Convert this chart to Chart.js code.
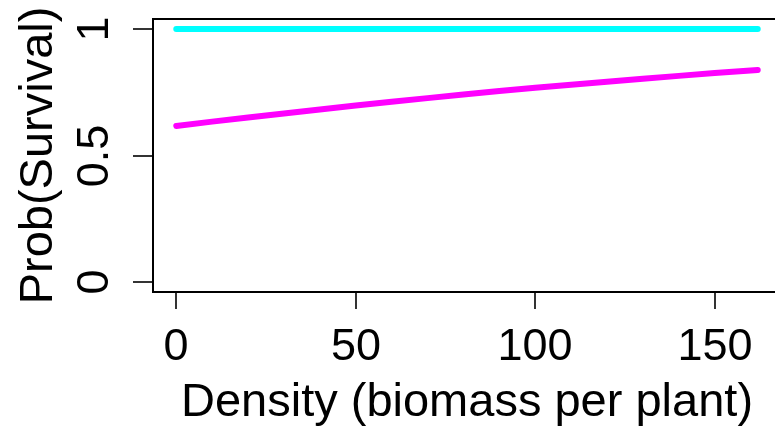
<!DOCTYPE html>
<html>
<head>
<meta charset="utf-8">
<script src="https://cdn.jsdelivr.net/npm/chart.js@4/dist/chart.umd.min.js"></script>
<style>
html, body { margin: 0; padding: 0; background: #fff; overflow: hidden; width: 775px; height: 432px; }
canvas { display: block; }
</style>
</head>
<body>
<canvas id="c" width="800" height="432"></canvas>
<script>
// Data
const density = [0, 10, 20, 30, 40, 50, 60, 70, 80, 90, 100, 110, 120, 130, 140, 150, 160, 162];
const survivalMagenta = [0.617, 0.634, 0.650, 0.666, 0.682, 0.698, 0.713, 0.727, 0.741, 0.755, 0.768, 0.780, 0.792, 0.804, 0.815, 0.826, 0.836, 0.838];
const survivalCyan = [1, 1, 1, 1, 1, 1, 1, 1, 1, 1, 1, 1, 1, 1, 1, 1, 1, 1];
const xTicks = [0, 50, 100, 150];
const yTicks = [0, 0.5, 1];
const yTickLabels = ['0', '0.5', '1'];
const xTitle = 'Density (biomass per plant)';
const yTitle = 'Prob(Survival)';

const toXY = (xs, ys) => xs.map((x, i) => ({ x: x, y: ys[i] }));

const FONT = '"Liberation Sans", Arial, Helvetica, sans-serif';

const rAxes = {
  id: 'rAxes',
  afterDraw(chart) {
    const ctx = chart.ctx;
    const a = chart.chartArea;
    const xs = chart.scales.x, ys = chart.scales.y;
    ctx.save();
    // box
    ctx.strokeStyle = '#000';
    ctx.lineWidth = 2;
    ctx.strokeRect(a.left, a.top, a.right - a.left, a.bottom - a.top);
    // x ticks
    ctx.lineWidth = 1.6;
    ctx.fillStyle = '#000';
    ctx.font = '45px ' + FONT;
    ctx.textAlign = 'center';
    ctx.textBaseline = 'alphabetic';
    xTicks.forEach(v => {
      const px = Math.round(xs.getPixelForValue(v));
      ctx.beginPath();
      ctx.moveTo(px, a.bottom);
      ctx.lineTo(px, a.bottom + 17);
      ctx.stroke();
      ctx.fillText(String(v), px, 360);
    });
    // y ticks
    yTicks.forEach((v, i) => {
      const py = Math.round(ys.getPixelForValue(v));
      ctx.beginPath();
      ctx.moveTo(a.left, py);
      ctx.lineTo(a.left - 20, py);
      ctx.stroke();
      ctx.save();
      ctx.translate(108, py);
      ctx.rotate(-Math.PI / 2);
      ctx.textAlign = 'center';
      ctx.fillText(yTickLabels[i], 0, 0);
      ctx.restore();
    });
    // titles
    ctx.font = '47px ' + FONT;
    ctx.textAlign = 'center';
    ctx.fillText(xTitle, (a.left + a.right) / 2, 416);
    ctx.save();
    ctx.translate(52, (a.top + a.bottom) / 2);
    ctx.rotate(-Math.PI / 2);
    ctx.fillText(yTitle, 0, 0);
    ctx.restore();
    ctx.restore();
  }
};

new Chart(document.getElementById('c'), {
  type: 'line',
  data: {
    datasets: [
      {
        label: 'cyan',
        data: toXY(density, survivalCyan),
        borderColor: '#00FFFF',
        borderWidth: 6,
        borderCapStyle: 'round',
        borderJoinStyle: 'round',
        pointRadius: 0,
        tension: 0,
        fill: false
      },
      {
        label: 'magenta',
        data: toXY(density, survivalMagenta),
        borderColor: '#FF00FF',
        borderWidth: 6,
        borderCapStyle: 'round',
        borderJoinStyle: 'round',
        pointRadius: 0,
        tension: 0,
        fill: false
      }
    ]
  },
  options: {
    responsive: false,
    animation: false,
    devicePixelRatio: 1,
    layout: { padding: { left: 153, top: 19, right: 19, bottom: 140 } },
    plugins: { legend: { display: false }, tooltip: { enabled: false } },
    scales: {
      x: { type: 'linear', min: -6.48, max: 168.48, display: false },
      y: { type: 'linear', min: -0.04, max: 1.04, display: false }
    }
  },
  plugins: [rAxes]
});
</script>
</body>
</html>
